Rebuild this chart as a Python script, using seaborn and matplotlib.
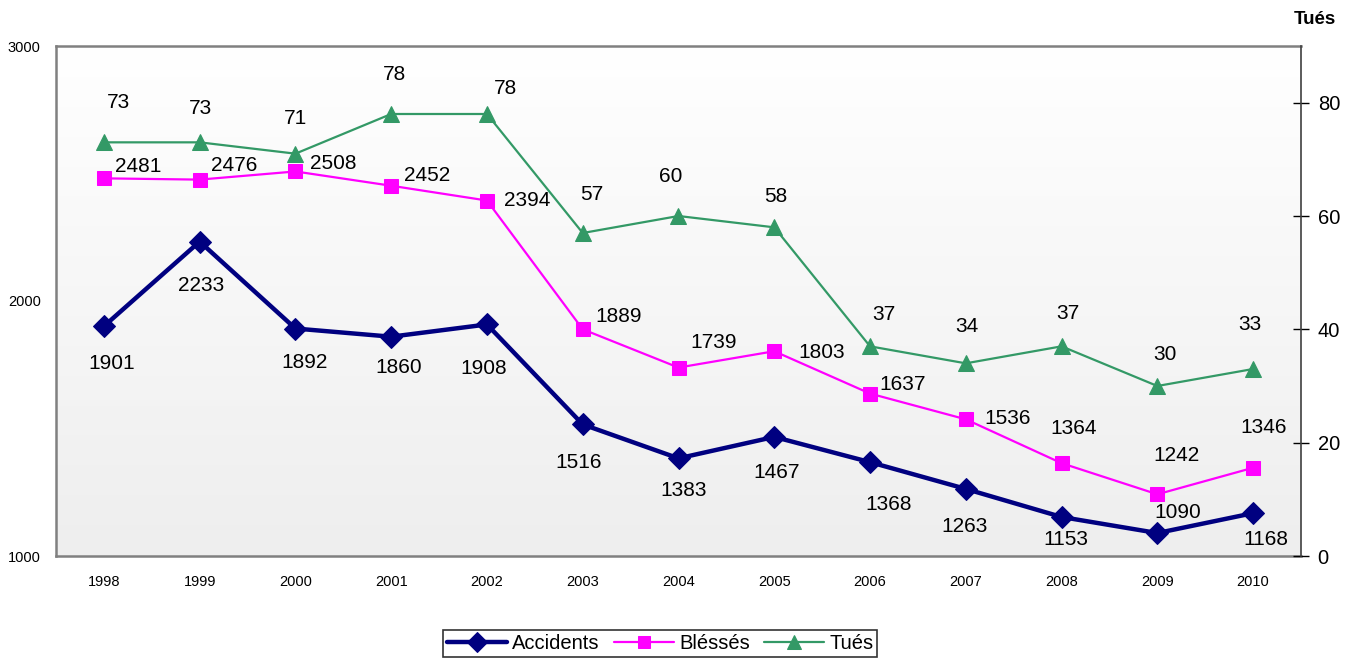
import numpy as np
import pandas as pd
import matplotlib
matplotlib.use("Agg")
import matplotlib.pyplot as plt
import seaborn as sns
from matplotlib.colors import LinearSegmentedColormap

sns.set_style("white")
plt.rcParams['font.family'] = ['Liberation Sans', 'DejaVu Sans']
plt.rcParams['text.color'] = 'black'
plt.rcParams['xtick.color'] = 'black'
plt.rcParams['ytick.color'] = 'black'

years = ["1998", "1999", "2000", "2001", "2002", "2003", "2004", "2005",
         "2006", "2007", "2008", "2009", "2010"]
accidents = [1901, 2233, 1892, 1860, 1908, 1516, 1383, 1467, 1368, 1263, 1153, 1090, 1168]
blesses = [2481, 2476, 2508, 2452, 2394, 1889, 1739, 1803, 1637, 1536, 1364, 1242, 1346]
tues = [73, 73, 71, 78, 78, 57, 60, 58, 37, 34, 37, 30, 33]

# label offsets in pixels (style only)
off_acc = [(8, -37), (1, -44), (9, -34), (7, -31), (-3, -44), (-4, -38), (5, -32),
           (2, -36), (19, -42), (-1, -38), (4, -23), (20, 21), (13, -26)]
off_ble = [(34, 12), (35, 14), (38, 8), (36, 10), (40, 0), (36, 13), (35, 25),
           (47, -1), (33, 9), (42, 1), (12, 35), (19, 39), (11, 40)]
off_tue = [(15, 40), (1, 34), (0, 35), (3, 39), (19, 26), (9, 39), (-8, 39),
           (2, 31), (14, 32), (1, 37), (6, 33), (8, 31), (-3, 44)]

df = pd.DataFrame({"pos": np.arange(len(years)), "Accidents": accidents,
                   "Bléssés": blesses, "Tués": tues})

c_acc = "#000080"
c_ble = "#FF00FF"
c_tue = "#339966"

fig = plt.figure(figsize=(13.46, 6.63), dpi=100)
ax = fig.add_axes([56/1346, 1-556/663, (1301-56)/1346, (556-46)/663])

# gradient background
grad = np.linspace(0, 1, 256).reshape(-1, 1)
cmap = LinearSegmentedColormap.from_list("bg", ["#ffffff", "#eeeeee"])
ax.imshow(grad, extent=[-0.5, 12.5, 1000, 3000], aspect='auto', cmap=cmap,
          origin='upper', zorder=0)

sns.lineplot(data=df, x="pos", y="Accidents", ax=ax, color=c_acc, lw=3.2,
             marker="D", markersize=11, markeredgecolor=c_acc, zorder=3, label="Accidents", legend=False)
sns.lineplot(data=df, x="pos", y="Bléssés", ax=ax, color=c_ble, lw=1.6,
             marker="s", markersize=10, markeredgecolor=c_ble, zorder=3, label="Bléssés", legend=False)

ax.set_xlim(-0.5, 12.5)
ax.set_ylim(1000, 3000)
ax.set_yticks([1000, 2000, 3000])
ax.set_xticks(range(len(years)))
ax.set_xticklabels(years)
ax.tick_params(axis='both', length=0, labelsize=10.5, colors='black')
ax.tick_params(axis='y', pad=11)
ax.tick_params(axis='x', pad=14)
ax.set_xlabel("")
ax.set_ylabel("")
for s in ['left', 'top', 'bottom']:
    ax.spines[s].set_color('#808080')
    ax.spines[s].set_linewidth(1.8)
ax.spines['right'].set_visible(False)

for i, (a, b) in enumerate(zip(accidents, blesses)):
    ax.annotate(str(a), (i, a), xytext=off_acc[i], textcoords='offset pixels',
                ha='center', va='center', fontsize=15, color='black', zorder=5)
    ax.annotate(str(b), (i, b), xytext=off_ble[i], textcoords='offset pixels',
                ha='center', va='center', fontsize=15, color='black', zorder=5)

ax2 = ax.twinx()
sns.lineplot(data=df, x="pos", y="Tués", ax=ax2, color=c_tue, lw=1.6,
             marker="^", markersize=11, markeredgecolor=c_tue, zorder=3, label="Tués", legend=False)
ax2.set_ylim(0, 90)
ax2.set_yticks([0, 20, 40, 60, 80])
ax2.tick_params(axis='y', direction='inout', length=12, width=1, labelsize=14.5, pad=6, colors='black')
ax2.set_ylabel("")
for s in ['left', 'top', 'bottom']:
    ax2.spines[s].set_visible(False)
ax2.spines['right'].set_color('#404040')
ax2.spines['right'].set_linewidth(1.2)

for i, t in enumerate(tues):
    ax2.annotate(str(t), (i, t), xytext=off_tue[i], textcoords='offset pixels',
                 ha='center', va='center', fontsize=15, color='black', zorder=5)

fig.text(1336/1346, 1-20/663, "Tués", ha='right', va='center', fontsize=13.5,
         fontweight='bold', color='black')

h1, l1 = ax.get_legend_handles_labels()
h2, l2 = ax2.get_legend_handles_labels()
leg = fig.legend(h1 + h2, l1 + l2, loc='upper center', bbox_to_anchor=(660/1346, 1-630/663),
                 ncol=3, fontsize=14.5, frameon=True, fancybox=False, edgecolor='black',
                 handlelength=3.0, handletextpad=0.25, columnspacing=0.7, borderpad=0.2,
                 borderaxespad=0, markerscale=0.9)
leg.get_frame().set_linewidth(1.2)
for t in leg.get_texts():
    t.set_color('black')

fig.savefig("out.png", dpi=100, facecolor='white')
